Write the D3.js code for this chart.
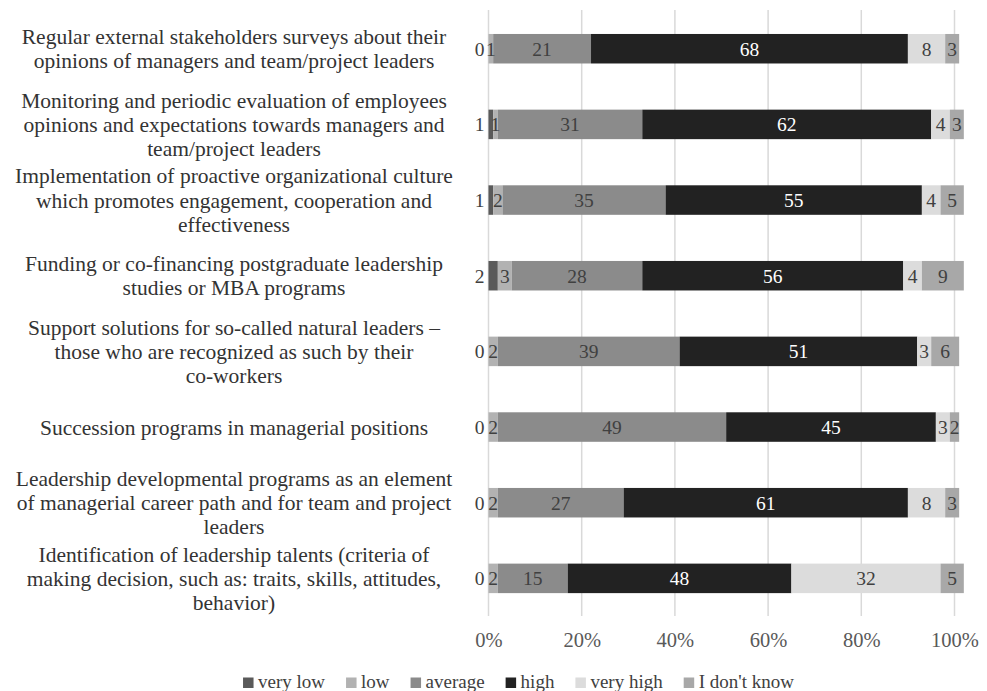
<!DOCTYPE html>
<html>
<head>
<meta charset="utf-8">
<script src="https://cdn.jsdelivr.net/npm/d3@7"></script>
<style>
  html, body { margin: 0; padding: 0; background: #fff; }
  svg { display: block; font-family: "Liberation Serif", "Times New Roman", serif; }
</style>
</head>
<body>
<svg id="chart" width="987" height="691"></svg>
<script>
// Survey items (top to bottom), each split into its display lines
const categories = [
  ["Regular external stakeholders surveys about their", "opinions of managers and team/project leaders"],
  ["Monitoring and periodic evaluation of employees", "opinions and expectations towards managers and", "team/project leaders"],
  ["Implementation of proactive organizational culture", "which promotes engagement, cooperation and", "effectiveness"],
  ["Funding or co-financing postgraduate leadership", "studies or MBA programs"],
  ["Support solutions for so-called natural leaders \u2013", "those who are recognized as such by their", "co-workers"],
  ["Succession programs in managerial positions"],
  ["Leadership developmental programs as an element", "of managerial career path and for team and project", "leaders"],
  ["Identification of leadership talents (criteria of", "making decision, such as: traits, skills, attitudes,", "behavior)"]
];

const seriesNames = ["very low", "low", "average", "high", "very high", "I don't know"];

// Percent of answers per rating
const veryLow  = [0, 1, 1, 2, 0, 0, 0, 0];
const low      = [1, 1, 2, 3, 2, 2, 2, 2];
const average  = [21, 31, 35, 28, 39, 49, 27, 15];
const high     = [68, 62, 55, 56, 51, 45, 61, 48];
const veryHigh = [8, 4, 4, 4, 3, 3, 8, 32];
const dontKnow = [3, 3, 5, 9, 6, 2, 3, 5];

const tickValues = [0, 20, 40, 60, 80, 100];

const seriesValues = [veryLow, low, average, high, veryHigh, dontKnow];
const fills  = ["#5a5a5a", "#b2b2b2", "#8b8b8b", "#222222", "#dcdcdc", "#a8a8a8"];
const inks   = ["#404040", "#404040", "#404040", "#ffffff", "#404040", "#404040"];

const rows = categories.map((c, i) => {
  const r = { idx: i };
  seriesNames.forEach((s, k) => { r[s] = seriesValues[k][i]; });
  return r;
});

const SERIF = "'Liberation Serif', 'Times New Roman', serif";
const svg = d3.select("#chart");

const x = d3.scaleLinear().domain([0, 100]).range([488.5, 954.5]);
const y = d3.scaleBand()
  .domain(d3.range(categories.length))
  .range([10.9, 616.2])
  .paddingInner(0.61)
  .paddingOuter(0.305);

// vertical gridlines
svg.append("g")
  .selectAll("line")
  .data(tickValues)
  .join("line")
  .attr("x1", d => x(d)).attr("x2", d => x(d))
  .attr("y1", 10).attr("y2", 616)
  .attr("stroke", "#d9d9d9")
  .attr("stroke-width", 1.5);

// x axis tick labels
const xAxis = d3.axisBottom(x).tickValues(tickValues).tickFormat(d => d + "%").tickSize(0).tickPadding(0);
const gx = svg.append("g").attr("transform", "translate(0,647)").call(xAxis);
gx.select(".domain").remove();
gx.attr("font-family", SERIF).attr("font-size", 20.5);
gx.selectAll("text")
  .attr("fill", "#595959")
  .attr("dy", "0");

// stacked bars
const stack = d3.stack().keys(seriesNames);
const layers = stack(rows);

const gBars = svg.append("g");
layers.forEach((layer, k) => {
  gBars.append("g")
    .attr("fill", fills[k])
    .selectAll("rect")
    .data(layer)
    .join("rect")
    .attr("x", d => x(d[0]))
    .attr("width", d => x(d[1]) - x(d[0]))
    .attr("y", (d, i) => y(i))
    .attr("height", y.bandwidth());
});

// value labels
const gLab = svg.append("g")
  .attr("font-size", 19.5)
  .attr("font-family", SERIF);
layers.forEach((layer, k) => {
  gLab.append("g")
    .selectAll("text")
    .data(layer)
    .join("text")
    .attr("x", d => k === 0 ? x(0) - 4 : x((d[0] + d[1]) / 2))
    .attr("y", (d, i) => y(i) + y.bandwidth() / 2)
    .attr("dy", "0.35em")
    .attr("text-anchor", k === 0 ? "end" : "middle")
    .attr("fill", inks[k])
    .text(d => d[1] - d[0]);
});

// category labels
const LINE = 24.2, CAT_X = 234;
const gCat = svg.append("g")
  .attr("font-size", 21.5)
  .attr("font-family", SERIF)
  .attr("fill", "#333333")
  .attr("text-anchor", "middle");
categories.forEach((lines, i) => {
  const cy = y(i) + y.bandwidth() / 2;
  const t = gCat.append("text")
    .attr("x", CAT_X)
    .attr("y", cy - (lines.length - 1) * LINE / 2);
  lines.forEach((ln, j) => {
    t.append("tspan")
      .attr("x", CAT_X)
      .attr("dy", j === 0 ? "0.35em" : LINE)
      .text(ln);
  });
});

// legend
const gLeg = svg.append("g").attr("font-size", 19).attr("font-family", SERIF).attr("fill", "#404040");
const SW = 10.5, GAP = 4.5, ITEM_GAP = 21;
const items = seriesNames.map((name, k) => {
  const g = gLeg.append("g");
  g.append("rect").attr("width", SW).attr("height", SW).attr("y", 677.5).attr("fill", fills[k]);
  const t = g.append("text").attr("x", SW + GAP).attr("y", 688).text(name);
  return { g, w: SW + GAP + t.node().getComputedTextLength() };
});
const total = d3.sum(items, d => d.w) + ITEM_GAP * (items.length - 1);
let cx = 518.5 - total / 2;
items.forEach(it => {
  it.g.attr("transform", `translate(${cx},0)`);
  cx += it.w + ITEM_GAP;
});
</script>
</body>
</html>
